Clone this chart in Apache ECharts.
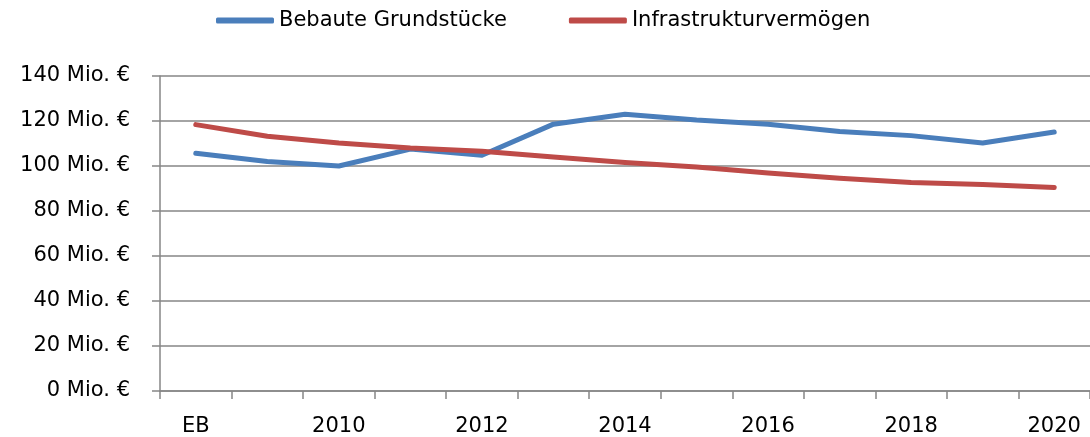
<!DOCTYPE html>
<html>
<head>
<meta charset="utf-8">
<script src="https://cdn.jsdelivr.net/npm/echarts@6/dist/echarts.min.js"></script>
<style>
  html, body { margin: 0; padding: 0; background: #fff; }
  #chart { width: 1090px; height: 437px; }
</style>
</head>
<body>
<div id="chart"></div>
<script>
var categories = ['EB', '2009', '2010', '2011', '2012', '2013', '2014', '2015', '2016', '2017', '2018', '2019', '2020'];
var bebaut = [105.7, 102, 100, 107.5, 104.8, 118.6, 123, 120.4, 118.6, 115.3, 113.5, 110.2, 115.1];
var infra = [118.4, 113.2, 110.2, 108, 106.6, 104, 101.6, 99.6, 96.9, 94.6, 92.7, 91.8, 90.4];
var seriesNames = ['Bebaute Grundstücke', 'Infrastrukturvermögen'];
var yMin = 0, yMax = 140, yStep = 20;

var fontFam = '"DejaVu Sans", Verdana, sans-serif';
var axisGray = '#868686';

var myChart = echarts.init(document.getElementById('chart'));
var option = {
    animation: false,
    textStyle: { fontFamily: fontFam },
    legend: {
        left: 216,
        top: 10,
        padding: 0,
        itemWidth: 58,
        itemHeight: 6,
        itemGap: 62,
        icon: 'roundRect',
        textStyle: { fontSize: 21, color: '#000', fontFamily: fontFam },
        data: seriesNames
    },
    grid: {
        left: 160,
        top: 76,
        width: 932,
        bottom: 45,
        containLabel: false
    },
    xAxis: {
        type: 'category',
        data: categories,
        boundaryGap: true,
        axisLine: { lineStyle: { color: axisGray, width: 1.5 } },
        axisTick: { show: true, interval: 0, length: 8, lineStyle: { color: axisGray, width: 1.5 } },
        axisLabel: { interval: 1, margin: 25, fontSize: 21, color: '#000', fontFamily: fontFam }
    },
    yAxis: {
        type: 'value',
        min: yMin,
        max: yMax,
        interval: yStep,
        axisLine: { show: true, lineStyle: { color: axisGray, width: 1.5 } },
        axisTick: { show: true, length: 8, lineStyle: { color: axisGray, width: 1.5 } },
        splitLine: { lineStyle: { color: axisGray, width: 1.5 } },
        axisLabel: {
            margin: 30,
            fontSize: 21,
            color: '#000',
            fontFamily: fontFam,
            formatter: function (v) { return v + ' Mio. €'; }
        }
    },
    series: [
        {
            name: seriesNames[0],
            type: 'line',
            data: bebaut,
            symbol: 'none',
            color: '#4A7EBB',
            lineStyle: { width: 5, cap: 'round', join: 'round' }
        },
        {
            name: seriesNames[1],
            type: 'line',
            data: infra,
            symbol: 'none',
            color: '#BE4B48',
            lineStyle: { width: 5, cap: 'round', join: 'round' }
        }
    ]
};
myChart.setOption(option);
</script>
</body>
</html>
